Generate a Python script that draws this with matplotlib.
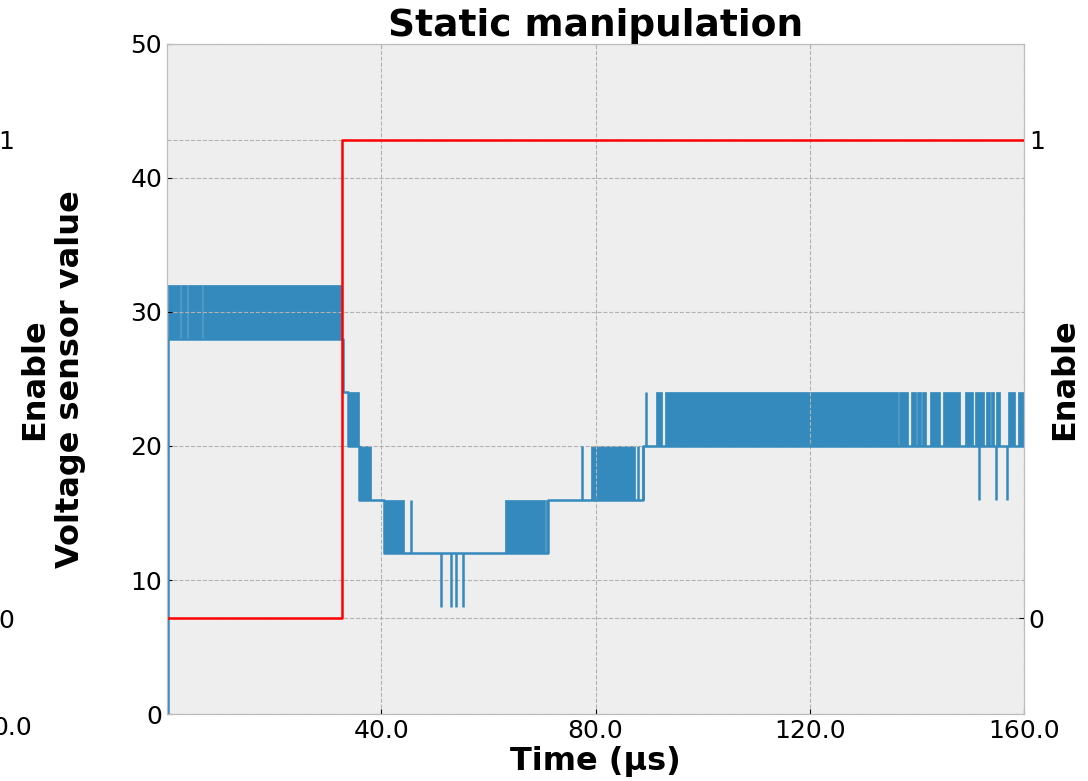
import numpy as np
import matplotlib.pyplot as plt

# enable signal (right axis)
enable_t = [0.0, 32.7, 160.0]
enable_v = [0, 1, 1]

# sensor value: base step level (steps-post)
level_t = [0.0, 0.1, 32.8, 33.7, 35.9, 40.5, 71.1, 88.9, 160.0]
level_v = [0, 28, 24, 20, 16, 12, 16, 20, 20]

# dense toggling bands: start, end, low, high
band_start = [0.1, 2.6, 3.9, 6.7, 33.7, 35.9, 40.5, 63.1, 70.8, 79.2, 91.3, 93.0,
              136.7, 138.9, 140.0, 140.9, 142.5, 144.9, 149.0, 150.9, 152.9, 153.8,
              154.7, 157.0, 158.8]
band_end = [2.4, 3.7, 6.5, 32.5, 35.9, 38.0, 44.2, 70.6, 71.1, 87.4, 92.4, 136.5,
            138.4, 139.8, 140.7, 141.7, 144.3, 148.1, 150.4, 152.6, 153.7, 154.4,
            155.5, 158.3, 160.0]
band_lo = [28, 28, 28, 28, 20, 16, 12, 12, 12, 16, 20, 20,
           20, 20, 20, 20, 20, 20, 20, 20, 20, 20, 20, 20, 20]
band_hi = [32, 32, 32, 32, 24, 20, 16, 16, 16, 20, 24, 24,
           24, 24, 24, 24, 24, 24, 24, 24, 24, 24, 24, 24, 24]

# single glitches: time, from, to
spike_t = [45.5, 51.2, 53.0, 54.0, 55.3, 77.4, 87.9, 88.9, 89.4, 151.6, 154.8, 156.8]
spike_from = [12, 12, 12, 12, 12, 16, 16, 16, 20, 20, 20, 20]
spike_to = [16, 8, 8, 8, 8, 20, 20, 20, 24, 16, 16, 16]

plt.style.use("bmh")
plt.rcParams["grid.linestyle"] = "--"
plt.rcParams["grid.linewidth"] = 0.8
blue = "#348ABD"

fig = plt.figure(figsize=(10.88, 7.81), dpi=100)
ax = fig.add_axes([167 / 1088, 1 - 714 / 781, 857 / 1088, 670 / 781])

ax.plot(level_t, level_v, drawstyle="steps-post", color=blue, lw=1.8)
for s, e, lo, hi in zip(band_start, band_end, band_lo, band_hi):
    ax.fill_between([s, e], [lo, lo], [hi, hi], color=blue, lw=0.5, edgecolor=blue)
ax.vlines(spike_t, spike_from, spike_to, color=blue, lw=1.8)

ax.set_xlim(0, 160)
ax.set_ylim(0, 50)
ax.set_xticks([40, 80, 120, 160])
ax.set_xticklabels([f"{v:.1f}" for v in [40, 80, 120, 160]])
ax.set_yticks([0, 10, 20, 30, 40, 50])
ax.tick_params(labelsize=18)
ax.set_xlabel("Time (µs)", fontsize=23, fontweight="bold", labelpad=2)
ax.set_ylabel("Enable\nVoltage sensor value", fontsize=23, fontweight="bold", labelpad=32)
ax.set_title("Static manipulation", fontsize=27, fontweight="bold", pad=2)

ax2 = ax.twinx()
ax2.plot(enable_t, enable_v, drawstyle="steps-post", color="red", lw=1.8)
ax2.set_ylim(-0.2, 1.2)
ax2.set_yticks([0, 1])
ax2.tick_params(labelsize=18)
ax2.set_ylabel("Enable", fontsize=23, fontweight="bold", labelpad=3)

# stray labels on the far left
ax3 = ax.twinx()
ax3.set_ylim(-0.2, 1.2)
ax3.yaxis.tick_left()
ax3.set_yticks([0, 1])
ax3.tick_params(axis="y", length=0, pad=110, labelsize=18)
ax3.grid(False)
for sp in ax3.spines.values():
    sp.set_visible(False)
fig.text(12 / 1088, 1 - 728 / 781, "0.0", fontsize=18, ha="center", va="center")

fig.savefig("out.png", dpi=100)
